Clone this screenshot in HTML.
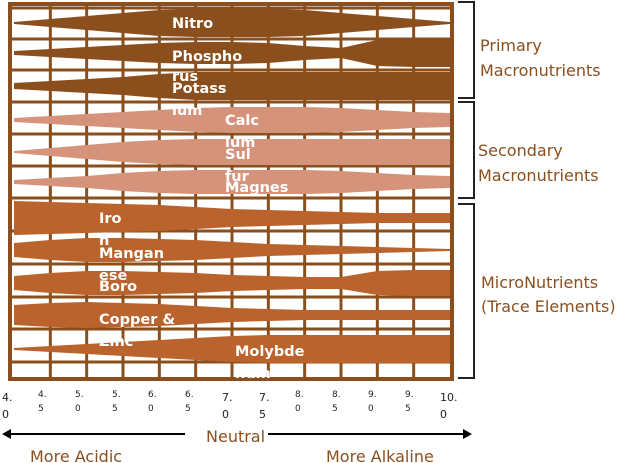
<!DOCTYPE html>
<html><head><meta charset="utf-8"><style>
html,body{margin:0;padding:0;background:#fff;width:621px;height:463px;overflow:hidden}
svg{display:block}
text{font-family:"DejaVu Sans","Liberation Sans",sans-serif}
</style></head><body>
<svg id="chart" width="621" height="463">
  <rect x="8" y="2" width="446" height="379" fill="#8b4f1e"/>
  <rect x="12" y="6" width="438" height="371" fill="#fff"/>
  <g id="grid"></g>
  <g id="bands"></g>
  <g id="labels" fill="#fff" font-size="14.5" font-weight="bold"></g>
  <g id="ticks" fill="#222"></g>
  <g stroke="#222" stroke-width="2" fill="none">
    <path d="M458 2 H474 V98 H458"/>
    <path d="M458 102 H474 V198 H458"/>
    <path d="M458 204 H474 V378 H458"/>
  </g>
  <g fill="#8b4f1e" font-size="16">
    <text x="480" y="51">Primary</text>
    <text x="480" y="76">Macronutrients</text>
    <text x="478" y="156">Secondary</text>
    <text x="478" y="181">Macronutrients</text>
    <text x="481" y="288">MicroNutrients</text>
    <text x="481" y="312">(Trace Elements)</text>
    <text x="206" y="442">Neutral</text>
    <text x="30" y="462">More Acidic</text>
    <text x="326" y="462">More Alkaline</text>
  </g>
  <g stroke="#000" stroke-width="2">
    <line x1="8" y1="434" x2="185" y2="434"/>
    <line x1="268" y1="434" x2="464" y2="434"/>
  </g>
  <path d="M2 434 L11 429 L11 439 Z" fill="#000"/>
  <path d="M472 434 L463 429 L463 439 Z" fill="#000"/>
</svg>
<script>
const phTicks = [4.0,4.5,5.0,5.5,6.0,6.5,7.0,7.5,8.0,8.5,9.0,9.5,10.0];
const nutrients = ["Nitrogen","Phosphorus","Potassium","Calcium","Sulfur","Magnesium","Iron","Manganese","Boron","Copper & Zinc","Molybdenum"];
const nitrogen   = [2,8,14,20,26,28,28,28,26,20,14,8,2];
const phosphorus = [4,8,12,16,20,22,22,20,14,10,26,28,28];
const potassium  = [6,10,14,18,24,28,28,28,28,28,28,28,28];
const calcium    = [4,8,12,16,20,24,26,26,26,24,20,16,14];
const sulfur     = [2,8,14,20,24,26,26,26,26,26,26,26,26];
const magnesium  = [4,8,12,18,22,24,24,24,24,22,18,14,12];
const iron       = [34,32,30,28,26,22,18,16,14,12,10,10,10];
const manganese  = [14,20,24,24,22,20,16,12,10,8,6,4,2];
const boron      = [14,20,24,24,22,20,16,14,12,12,24,26,26];
const copperZinc = [20,24,26,24,22,18,14,12,10,10,10,10,10];
const molybdenum = [2,6,10,14,18,22,26,28,28,28,28,28,28];
const series = [nitrogen,phosphorus,potassium,calcium,sulfur,magnesium,iron,manganese,boron,copperZinc,molybdenum];
const centers = [23,53,86,120,152,182,218,250,283,315,349];
const colors = ["#8b4f1e","#8b4f1e","#8b4f1e","#d4937a","#d4937a","#d4937a","#ba632c","#ba632c","#ba632c","#ba632c","#ba632c"];
const NS="http://www.w3.org/2000/svg";
function xScale(ph){return 14 + (ph-4)/6*436;}
const grid=document.getElementById('grid');
for(let i=1;i<12;i++){
  const l=document.createElementNS(NS,'rect');
  l.setAttribute('x',xScale(4+i*0.5)-1.5);l.setAttribute('y',6);l.setAttribute('width',3);l.setAttribute('height',371);l.setAttribute('fill','#8b4f1e');
  
  
  grid.appendChild(l);
}
[8,39,70,102,134,166,198,231,264,297,329,362].forEach(y=>{
  const l=document.createElementNS(NS,'rect');
  l.setAttribute('x',12);l.setAttribute('y',y-1.5);l.setAttribute('width',438);l.setAttribute('height',3);l.setAttribute('fill','#8b4f1e');
  
  
  grid.appendChild(l);
});
const bands=document.getElementById('bands');
series.forEach((w,i)=>{
  let top=[],bot=[];
  w.forEach((v,j)=>{const x=xScale(phTicks[j]);top.push(x+','+(centers[i]-v/2));bot.unshift(x+','+(centers[i]+v/2));});
  const p=document.createElementNS(NS,'polygon');
  p.setAttribute('points',top.concat(bot).join(' '));
  p.setAttribute('fill',colors[i]);
  
  
  bands.appendChild(p);
});
const labelLines=[["Nitro",172,28],["Phospho",172,61],["rus",172,81],["Potass",172,93],["ium",172,115],["Calc",225,125],["ium",225,147],["Sul",225,159],["fur",225,181],["Magnes",225,192],["Iro",99,223],["n",99,245],["Mangan",99,258],["ese",99,280],["Boro",99,291],["Copper &",99,324],["Zinc",99,346],["Molybde",235,356],["num",235,378]];
const lg=document.getElementById('labels');
labelLines.forEach(l=>{
  const t=document.createElementNS(NS,'text');
  t.setAttribute('x',l[1]);t.setAttribute('y',l[2]);t.textContent=l[0];
  
  
  lg.appendChild(t);
});
const tg=document.getElementById('ticks');
phTicks.forEach((ph,j)=>{
  const s=ph.toFixed(1).split('.');
  const big=(ph===4||ph===7||ph===7.5||ph===10);
  const x=[2,38,75,112,148,185,222,259,295,332,368,405,440][j];
  const fs=big?11:9, y1=big?401:397, y2=big?418:411;
  [[s[0]+'.',y1],[s[1],y2]].forEach(a=>{
    const t=document.createElementNS(NS,'text');
    t.setAttribute('x',x);t.setAttribute('y',a[1]);t.setAttribute('font-size',fs);t.textContent=a[0];
    
    
    tg.appendChild(t);
  });
});
</script>
</body></html>
